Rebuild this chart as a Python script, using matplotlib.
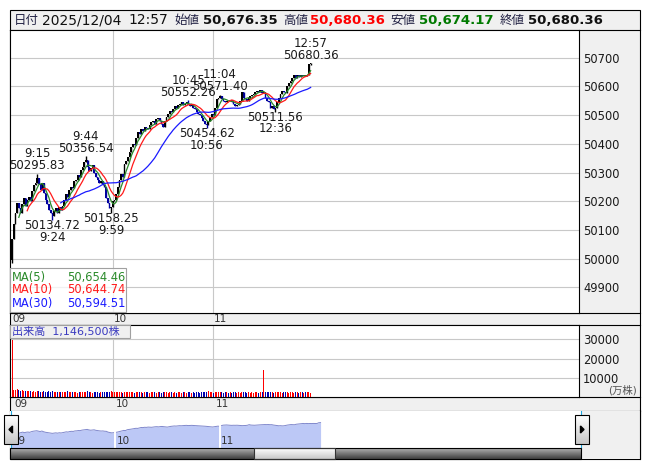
import matplotlib.pyplot as plt
import numpy as np
import pandas as pd
from matplotlib.patches import Rectangle, Polygon
from matplotlib.colors import LinearSegmentedColormap

plt.rcParams['font.family'] = ['DejaVu Sans', 'Noto Sans CJK JP']

W, H = 653, 470

# 1-minute closes, 09:00-11:30 then 12:30-12:57
close_am = [
    50070, 50120, 50160, 50195, 50175, 50160, 50190, 50210, 50185, 50205,
    50215, 50200, 50235, 50255, 50265, 50280, 50260, 50240, 50265, 50230,
    50205, 50190, 50170, 50160, 50150, 50165, 50175, 50160, 50180, 50170,
    50185, 50205, 50225, 50215, 50240, 50250, 50245, 50270, 50275, 50290,
    50285, 50310, 50320, 50335, 50345, 50320, 50305, 50315, 50325, 50300,
    50285, 50275, 50265, 50270, 50255, 50250, 50210, 50195, 50175, 50180,
    50200, 50205, 50225, 50250, 50275, 50295, 50285, 50330, 50340, 50355,
    50370, 50390, 50400, 50395, 50420, 50440, 50435, 50450, 50445, 50460,
    50455, 50450, 50465, 50475, 50480, 50470, 50485, 50490, 50480, 50470,
    50460, 50480, 50495, 50505, 50515, 50510, 50520, 50530, 50525, 50535,
    50540, 50545, 50535, 50540, 50545, 50540, 50530, 50535, 50525, 50520,
    50510, 50505, 50500, 50490, 50480, 50470, 50465, 50480, 50495, 50505,
    50500, 50525, 50555, 50560, 50565, 50555, 50550, 50545, 50550, 50548,
    50552, 50545, 50540, 50532, 50535, 50540, 50550, 50580, 50560, 50555,
    50550, 50558, 50565, 50570, 50575, 50580, 50585, 50582, 50586, 50578,
    50580,
]
close_pm = [
    50560, 50550, 50545, 50525, 50530, 50520, 50525, 50545, 50560, 50575,
    50585, 50580, 50576, 50600, 50612, 50620, 50630, 50640, 50630, 50640,
    50632, 50638, 50635, 50640, 50636, 50640, 50676.35, 50680.36,
]
open_first = 49995
low_first = 49985
low_last = 50674.17

vol_am = [
    29800,
    3900, 3600, 4000, 3500, 3300, 3700, 3100, 3000, 3200, 2900,
    3100, 2800, 3000, 2700, 3300, 2900, 2600, 2800, 3000, 2500,
    2700, 2900, 2600, 3100, 2800, 2500, 2700, 2400, 2600, 2800,
    2500, 2700, 2900, 2600, 2400, 2800, 2500, 2700, 2300, 2600,
    2800, 2500, 2700, 2400, 3000, 2600, 2500, 2300, 2700, 2400,
    2600, 2300, 2500, 2700, 2400, 2600, 2800, 2500, 2900, 2600,
    2700, 2500, 2400, 2800, 2600, 2300, 2700, 2500, 2600, 2400,
    2500, 2800, 2300, 2600, 2400, 2700, 2500, 2300, 2600, 2400,
    2500, 2300, 2700, 2400, 2600, 2200, 2500, 2400, 2300, 2600,
    2400, 2500, 2300, 2700, 2400, 2200, 2500, 2300, 2600, 2400,
    2300, 2500, 2400, 2200, 2600, 2400, 2300, 2500, 2200, 2400,
    2600, 2300, 2500, 2400, 2700, 2500, 2900, 2600, 2400, 2300,
    2500, 2800, 2600, 2400, 2700, 2300, 2500, 2400, 2200, 2500,
    2300, 2400, 2600, 2200, 2500, 2300, 2400, 2700, 2500, 2300,
    2400, 2200, 2500, 2300, 2600, 2400, 2300, 2500, 2600, 13900,
]
vol_pm = [
    2800, 2500, 2700, 2400, 2600, 2300, 2800, 2500, 2400, 2600,
    2300, 2500, 2700, 2400, 2200, 2500, 2600, 2300, 2400, 2500,
    2200, 2400, 2600, 2300, 2500, 2400, 2700, 2300,
]

mark_time = ['9:15', '9:24', '9:44', '9:59', '10:45', '10:56', '11:04', '12:36', '12:57']
mark_price = [50295.83, 50134.72, 50356.54, 50158.25, 50552.26, 50454.62, 50571.40, 50511.56, 50680.36]
mark_kind = ['H', 'L', 'H', 'L', 'H', 'L', 'H', 'L', 'H']

ma_names = ['MA(5)', 'MA(10)', 'MA(30)']
ma_windows = [5, 10, 30]
ma_last = [50654.46, 50644.74, 50594.51]
ma_colors = ['#2a8a2a', '#ff1a1a', '#1a1aff']

price_ticks = [49900, 50000, 50100, 50200, 50300, 50400, 50500, 50600, 50700]
vol_ticks = [10000, 20000, 30000]
hour_idx = [0, 60, 120]
hour_lbl = ['09', '10', '11']

total_vol = '1,146,500'


def t2i(t):
    h, m = map(int, t.split(':'))
    mins = h * 60 + m
    return mins - 540 if mins <= 690 else 151 + (mins - 750)


close = np.array(close_am + close_pm, dtype=float)
opn = np.r_[open_first, close[:-1]]
high = np.maximum(opn, close)
low = np.minimum(opn, close)
low[0] = low_first
low[-1] = low_last
for t, p, k in zip(mark_time, mark_price, mark_kind):
    if k == 'H':
        high[t2i(t)] = p
    else:
        low[t2i(t)] = p
vol = np.array(vol_am + vol_pm, dtype=float)
x = np.arange(len(close))
up = close >= opn


def px(x0, y0, x1, y1):
    return [x0 / W, 1 - y1 / H, (x1 - x0) / W, (y1 - y0) / H]


fig = plt.figure(figsize=(W / 100, H / 100), dpi=100)

bg = fig.add_axes([0, 0, 1, 1], zorder=0)
bg.axis('off')
bg.add_patch(Rectangle((10, 10), 630, 449, facecolor='#f0f0f0', edgecolor='black', lw=0.8))
for yy in [30, 312.5, 325, 397, 410.5]:
    bg.plot([10, 640], [yy, yy], color='black', lw=0.8)
bg.set_xlim(0, W)
bg.set_ylim(H, 0)

XL = (-1.25, 338)

# ---- price panel ----
ax = fig.add_axes(px(10, 30, 579, 312.5), zorder=1)
ax.set_facecolor('white')
ax.vlines(x[up], low[up], high[up], color='black', lw=1.0)
ax.bar(x[up], (close - opn)[up], bottom=opn[up], width=1.0, color='black', lw=0)
ax.vlines(x[~up], low[~up], high[~up], color='#0000a0', lw=1.0)
ax.bar(x[~up], (opn - close)[~up], bottom=close[~up], width=1.0, color='#0000a0', lw=0)
s = pd.Series(close)
for w, c in zip(ma_windows, ma_colors):
    ax.plot(x, s.rolling(w, min_periods=w).mean(), color=c, lw=0.9)
for t, p, k in zip(mark_time, mark_price, mark_kind):
    i = t2i(t)
    if k == 'H':
        offs = [(8, '%.2f' % p), (20, t)]
    else:
        offs = [(-5.5, '%.2f' % p), (-17, t)]
    for dy, txt in offs:
        ax.annotate(txt, (i, p), xytext=(0, dy), textcoords='offset pixels',
                    ha='center', va='center', fontsize=8.5, color='#1a1a1a')
ax.set_xlim(*XL)
ax.set_ylim(49813, 50796)
ax.set_yticks(price_ticks)
ax.set_xticks(hour_idx[1:])
ax.grid(True, color='#c8c8c8', lw=0.8)
ax.set_axisbelow(True)
ax.yaxis.tick_right()
ax.tick_params(axis='x', length=0, labelbottom=False)
ax.tick_params(axis='y', length=0, labelsize=8.3, pad=3, colors='#1a1a1a')
for sp in ax.spines.values():
    sp.set_linewidth(0.8)

# ---- time strips ----
for y0, y1, dx in [(312.5, 325, 0.4), (397, 410.5, 1.6)]:
    st = fig.add_axes(px(10, y0, 579, y1), zorder=1)
    st.axis('off')
    st.set_xlim(*XL)
    st.set_ylim(0, 1)
    for hi, hl in zip(hour_idx, hour_lbl):
        st.text(hi + dx, 0.45, hl, ha='left', va='center', fontsize=7.5, color='#333333')

# ---- volume panel ----
av = fig.add_axes(px(10, 325, 579, 397), zorder=1)
av.set_facecolor('white')
av.bar(x[up], vol[up], width=0.6, color='#ff0000', lw=0)
av.bar(x[~up], vol[~up], width=0.6, color='#0000b0', lw=0)
av.set_xlim(*XL)
av.set_ylim(0, 37500)
av.set_yticks(vol_ticks)
av.set_xticks(hour_idx[1:])
av.grid(True, color='#c8c8c8', lw=0.8)
av.set_axisbelow(True)
av.yaxis.tick_right()
av.tick_params(axis='x', length=0, labelbottom=False)
av.tick_params(axis='y', length=0, labelsize=8.3, pad=3, colors='#1a1a1a')
for sp in av.spines.values():
    sp.set_linewidth(0.8)

# ---- navigator ----
an = fig.add_axes(px(10, 410.5, 581, 448), zorder=1)
an.set_facecolor('white')
an.fill_between(x, close, 49000, color='#bcc8f6', lw=0)
an.plot(x, close, color='#8088cc', lw=0.7)
for hi, hl in zip(hour_idx, hour_lbl):
    if hi > 0:
        an.axvline(hi, color='white', lw=1.4)
    an.text(hi + 0.9, 0.2, hl, transform=an.get_xaxis_transform(),
            ha='left', va='center', fontsize=7.5, color='#333333')
an.set_xlim(-0.29, 327.5)
an.set_ylim(49426, 51280)
an.set_xticks([])
an.set_yticks([])
for sp in an.spines.values():
    sp.set_visible(False)

# ---- overlay: header, boxes, scrollbar ----
fg = fig.add_axes([0, 0, 1, 1], zorder=5)
fg.axis('off')
fg.patch.set_alpha(0)

header = [
    ('日付', 14, 'normal', '#222244', 9),
    ('2025/12/04', 42, 'normal', '#111111', 10),
    ('12:57', 128, 'normal', '#111111', 10),
    ('始値', 174, 'normal', '#222244', 9),
    ('50,676.35', 203, 'bold', '#111111', 9.5),
    ('高値', 283, 'normal', '#222244', 9),
    ('50,680.36', 310, 'bold', '#ff0000', 9.5),
    ('安値', 390, 'normal', '#222244', 9),
    ('50,674.17', 419, 'bold', '#007a00', 9.5),
    ('終値', 500, 'normal', '#222244', 9),
    ('50,680.36', 528, 'bold', '#111111', 9.5),
]
for txt, hx, wt, col, fs in header:
    fg.text(hx, 20.5, txt, ha='left', va='center', fontsize=fs, fontweight=wt, color=col)

# MA legend box
fg.add_patch(Rectangle((10, 268), 116, 44, facecolor='white', alpha=0.75, edgecolor='none'))
fg.add_patch(Rectangle((10, 268), 116, 44, facecolor='none', edgecolor='#a0a0a0', lw=0.8))
for k, (nm, v, c) in enumerate(zip(ma_names, ma_last, ma_colors)):
    yy = 277 + k * 13
    fg.text(12, yy, nm, ha='left', va='center', fontsize=8.3, color=c)
    fg.text(125, yy, '{:,.2f}'.format(v), ha='right', va='center', fontsize=8.3, color=c)

# volume box
fg.add_patch(Rectangle((10, 324.5), 120, 13.5, facecolor='#f0f0f0', edgecolor='#a0a0a0', lw=0.8))
fg.text(12, 331.5, '出来高  ' + total_vol + '株', ha='left', va='center', fontsize=8, color='#3a3ac0')
fg.text(637, 390, '(万株)', ha='right', va='center', fontsize=7.5, color='#555555')

# navigator borders and gray right side
fg.add_patch(Rectangle((581, 411), 59, 48, facecolor='#f0f0f0', edgecolor='none', zorder=1))
fg.plot([640, 640], [410, 459], color='black', lw=0.8, zorder=1)
fg.plot([10.5, 10.5], [411, 448], color='#20a8e0', lw=0.8)
fg.plot([581, 581], [411, 448], color='#20a8e0', lw=0.8)

# scrollbar
dark = LinearSegmentedColormap.from_list('d', ['#b0b0b0', '#404040'])
light = LinearSegmentedColormap.from_list('l', ['#ffffff', '#c8c8c8'])
grad = np.linspace(0, 1, 24).reshape(-1, 1)
fg.imshow(grad, extent=(10, 581, 459, 448), cmap=dark, aspect='auto', zorder=2)
fg.imshow(grad, extent=(254, 335, 459, 448), cmap=light, aspect='auto', zorder=3)
fg.add_patch(Rectangle((10, 448), 571, 11, facecolor='none', edgecolor='black', lw=0.8, zorder=4))
fg.add_patch(Rectangle((254, 448), 81, 11, facecolor='none', edgecolor='#333333', lw=0.8, zorder=4))

# scroll buttons
for bx, d in [(4, -1), (575, 1)]:
    fg.imshow(grad, extent=(bx, bx + 14, 444, 415), cmap=light, aspect='auto', zorder=5)
    fg.add_patch(Rectangle((bx, 415), 14, 29, facecolor='none', edgecolor='black', lw=0.8, zorder=6))
    cx = bx + 7
    fg.add_patch(Polygon([(cx + 2 * d, 429.5), (cx - 1.5 * d, 426), (cx - 1.5 * d, 433)],
                         closed=True, color='black', zorder=7))

fg.set_xlim(0, W)
fg.set_ylim(H, 0)

fig.savefig('out.png', dpi=100)
